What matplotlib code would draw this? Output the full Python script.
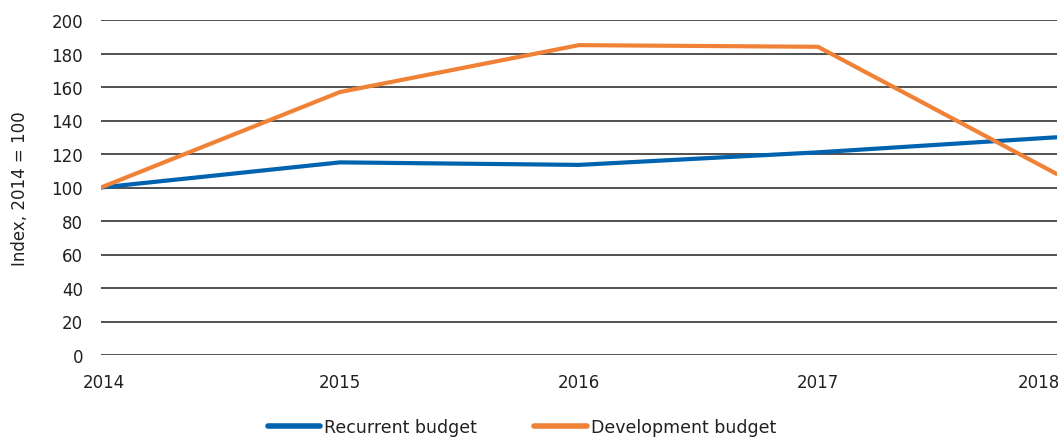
import matplotlib
matplotlib.use("Agg")
import matplotlib.pyplot as plt
from matplotlib.transforms import ScaledTranslation

years = [2014, 2015, 2016, 2017, 2018]
recurrent = [100, 115, 113.5, 121, 130]
development = [100, 157, 185, 184, 108]
y_ticks = [0, 20, 40, 60, 80, 100, 120, 140, 160, 180, 200]

plt.rcParams['font.family'] = ['DejaVu Sans']
fig = plt.figure(figsize=(10.62, 4.39), dpi=100)
ax = fig.add_axes([101/1062, 1 - 356/439, (1057-101)/1062, (356-21)/439])

blue = '#0063B0'
orange = '#EF8236'
ax.plot(years, recurrent, color=blue, lw=3.0, solid_capstyle='round', label='Recurrent budget', zorder=3)
ax.plot(years, development, color=orange, lw=3.0, solid_capstyle='round', label='Development budget', zorder=3)

ax.set_xlim(2014, 2018)
ax.set_ylim(0, 200)
ax.set_yticks(y_ticks)
ax.set_xticks(years)
ax.set_xticklabels([str(y) for y in years])
for s in ax.spines.values():
    s.set_visible(False)
ax.grid(axis='y', color='#333333', lw=1.2)
ax.set_axisbelow(True)
ax.tick_params(axis='both', length=0, labelsize=12, colors='#231f20')
ax.tick_params(axis='y', pad=13)
ax.tick_params(axis='x', pad=13)
labs = ax.get_xticklabels()
labs[-1].set_ha('right')
labs[-1].set_transform(labs[-1].get_transform() + ScaledTranslation(0.03, 0, fig.dpi_scale_trans))
labs[0].set_transform(labs[0].get_transform() + ScaledTranslation(0.03, 0, fig.dpi_scale_trans))

ax.set_ylabel('Index, 2014 = 100', fontsize=12, color='#231f20')
ax.yaxis.set_label_coords(-72/956, 0.5)

leg = fig.legend(loc='center', bbox_to_anchor=(522/1062, 1 - 428/439), ncol=2, frameon=False,
                 fontsize=12.5, handlelength=3.0, handletextpad=0.25, columnspacing=3.3)
for t in leg.get_texts():
    t.set_color('#231f20')
for h in leg.get_lines():
    h.set_linewidth(4)

fig.savefig('out.png', dpi=100)
